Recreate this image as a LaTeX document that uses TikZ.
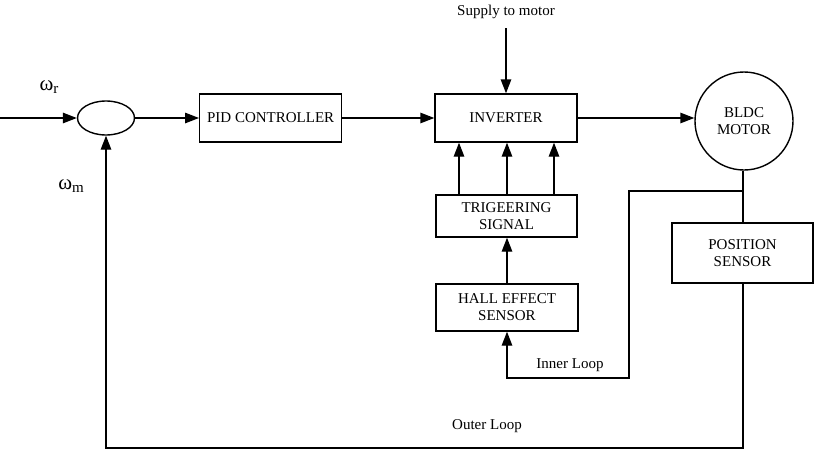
\documentclass[tikz,border=0pt]{standalone}
\usepackage{fontspec}
\setmainfont{Liberation Serif}
\usetikzlibrary{arrows.meta,shapes.geometric}
\begin{document}
\begin{tikzpicture}[x=1pt,y=-1pt,
  blk/.style={draw,line width=1.4pt,minimum width=142pt,minimum height=47pt,align=center,inner sep=0pt,font=\fontsize{15}{17}\selectfont},
  wire/.style={line width=1.4pt},
  arr/.style={wire,-{Triangle[length=14pt,width=10.5pt]}},
  lbl/.style={font=\fontsize{15}{17}\selectfont,inner sep=0pt},
  om/.style={inner sep=0pt,font=\fontsize{21}{23}\selectfont}]
\useasboundingbox (0,0) rectangle (815,450);
\coordinate (in) at (0,118);
\node[draw,line width=1.4pt,ellipse,minimum width=57pt,minimum height=34pt,inner sep=0pt] (sum) at (106,118) {};
\node[blk,minimum width=142pt,minimum height=48pt] (pid) at (270.7,118) {PID CONTROLLER};
\node[blk,minimum height=48pt] (inv) at (506,118) {INVERTER};
\node[blk,minimum height=42pt,minimum width=141pt] (trig) at (506.5,216) {TRIGEERING\\SIGNAL};
\node[blk,minimum width=142pt] (hall) at (507,307.5) {HALL EFFECT\\SENSOR};
\node[draw,line width=1.4pt,circle,minimum size=98pt,align=center,inner sep=0pt,font=\fontsize{15}{17}\selectfont] (mot) at (744,121) {BLDC\\MOTOR};
\node[blk,minimum width=141pt,minimum height=60pt] (pos) at (742.5,253) {POSITION\\SENSOR};
\node[lbl] (sup) at (506,12) {Supply to motor};
\coordinate (supS) at (506,28);
\node[om] (wr) at (49,87) {ω{\fontsize{15}{16}\selectfont\raisebox{-0.4ex}{r}}};
\node[om] (wm) at (71,186) {ω{\fontsize{15}{16}\selectfont\raisebox{-0.4ex}{m}}};
\node[lbl] (il) at (570,365) {Inner Loop};
\node[lbl] (ol) at (487,426) {Outer Loop};
\coordinate (t1) at (459,0);
\coordinate (t2) at (507,0);
\coordinate (t3) at (554,0);
\coordinate (jn) at (743,191);
\coordinate (ia) at (629,191);
\coordinate (ib) at (629,378);
\coordinate (ic) at (507,378);
\coordinate (oa) at (743,448);
\coordinate (ob) at (106,448);
% forward path
\draw[arr] (in) -- (sum.west);
\draw[arr] (sum.east) -- (pid.west);
\draw[arr] (pid.east) -- (inv.west);
\draw[arr] (inv.east) -- (inv.east -| mot.west);
\draw[arr] (supS) -- (inv.north);
% triggering to inverter
\draw[arr] (trig.north -| t1) -- (inv.south -| t1);
\draw[arr] (trig.north -| t2) -- (inv.south -| t2);
\draw[arr] (trig.north -| t3) -- (inv.south -| t3);
\draw[arr] (hall.north -| t2) -- (trig.south -| t2);
% motor to sensor
\draw[wire] (mot.south -| jn) -- (pos.north -| jn);
% inner loop
\draw[arr] (jn) -- (ia) -- (ib) -- (ic) -- (hall.south -| ic);
% outer loop
\draw[arr] (pos.south -| oa) -- (oa) -- (ob) -- (sum.south);
\end{tikzpicture}
\end{document}
